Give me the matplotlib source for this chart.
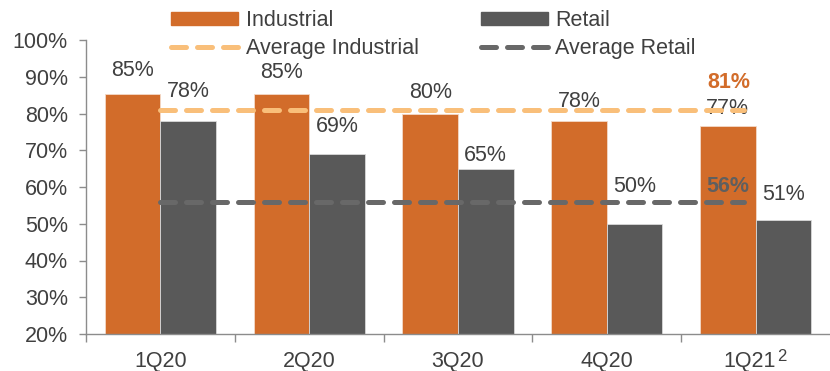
import matplotlib.pyplot as plt
import numpy as np
from matplotlib.lines import Line2D
from matplotlib.patches import Patch

plt.rcParams["font.family"] = ["Liberation Sans", "DejaVu Sans"]

# === Data ===
quarters = ["1Q20", "2Q20", "3Q20", "4Q20", "1Q21"]
footnotes = ["", "", "", "", "2"]
industrial = [85.4, 85.4, 79.8, 77.9, 76.7]
retail = [78.0, 69.1, 65.0, 49.8, 50.9]
avg_industrial = 81
avg_retail = 56

# label lift above each bar (points), hand placed to dodge the average lines
ind_lift = [9, 7.5, 8, 6.5, 5]
ret_lift = [13.5, 12, 2, 20, 11]

# === Style ===
ORANGE = "#D26C2A"
GRAY = "#595959"
LIGHT_ORANGE = "#F9BF7A"
AVG_GRAY = "#686868"
TEXT = "#404040"
FS = 15.5
DASH = (3.0, 2.2)

fig = plt.figure(figsize=(8.3, 3.71), dpi=100)
ax = fig.add_axes([86 / 830, 37 / 371, 744 / 830, 294 / 371])

x = np.arange(len(quarters))
w = 0.373
ax.bar(x - w / 2, industrial, w, color=ORANGE, edgecolor="#f3d9c8", linewidth=0.6)
ax.bar(x + w / 2, retail, w, color=GRAY, edgecolor="#d9d9d9", linewidth=0.6)

for xi, v, d in zip(x, industrial, ind_lift):
    ax.annotate(f"{v:.0f}%", (xi - w / 2, v), xytext=(0, d), textcoords="offset points",
                ha="center", va="bottom", fontsize=FS, color=TEXT)
for xi, v, d in zip(x, retail, ret_lift):
    ax.annotate(f"{v:.0f}%", (xi + w / 2, v), xytext=(0, d), textcoords="offset points",
                ha="center", va="bottom", fontsize=FS, color=TEXT)

# average lines across the quarters
line_x = [0, 3.92]
ax.plot(line_x, [avg_industrial] * 2, color=LIGHT_ORANGE, lw=3.6,
        dashes=DASH, dash_capstyle="round", zorder=3)
ax.plot(line_x, [avg_retail] * 2, color=AVG_GRAY, lw=3.6,
        dashes=DASH, dash_capstyle="round", zorder=3)
ax.annotate(f"{avg_industrial}%", (3.82, avg_industrial), xytext=(0, 12), textcoords="offset points",
            ha="center", va="bottom", fontsize=FS, color=ORANGE, fontweight="bold")
ax.annotate(f"{avg_retail}%", (4 - w / 2, avg_retail), xytext=(0, 11), textcoords="offset points",
            ha="center", va="center", fontsize=FS, color="#5f5f5f", fontweight="bold")

# === Axes ===
ax.set_xlim(-0.5, len(quarters) - 0.5)
ax.set_ylim(20, 100)
ax.set_yticks(range(20, 101, 10))
ax.set_yticklabels([f"{t}%" for t in range(20, 101, 10)])

# quarter names sit under each group; ones with a footnote nudge left for the marker
label_x = [xi - (0.04 if fn else 0) for xi, fn in zip(x, footnotes)]
ax.set_xticks(label_x)
ax.set_xticklabels(quarters)
for lx, fn in zip(label_x, footnotes):
    if fn:
        ax.annotate(fn, (lx, 0), xycoords=("data", "axes fraction"), xytext=(19.5, -11),
                    textcoords="offset points", ha="left", va="top", fontsize=12, color=TEXT)
ax.set_xticks(np.arange(-0.5, len(quarters) - 0.5, 1), minor=True)
ax.tick_params(axis="x", which="major", length=0, pad=12, labelsize=FS, labelcolor=TEXT)
ax.tick_params(axis="x", which="minor", length=6, color="#8c8c8c", width=1)
ax.tick_params(axis="y", length=5, color="#8c8c8c", width=1, pad=8, labelsize=FS, labelcolor=TEXT)
for s in ["top", "right"]:
    ax.spines[s].set_visible(False)
for s in ["left", "bottom"]:
    ax.spines[s].set_color("#8c8c8c")
    ax.spines[s].set_linewidth(1)

handles = [
    Patch(color=ORANGE, label="Industrial"),
    Line2D([], [], color=LIGHT_ORANGE, lw=3.6, dashes=DASH, dash_capstyle="round",
           label="Average Industrial"),
    Patch(color=GRAY, label="Retail"),
    Line2D([], [], color=AVG_GRAY, lw=3.6, dashes=DASH, dash_capstyle="round",
           label="Average Retail"),
]
fig.legend(handles=handles, ncol=2, loc="upper left", bbox_to_anchor=(152 / 830, 1.025),
           frameon=False, fontsize=FS, handlelength=3.1, handleheight=0.55,
           handletextpad=0.35, columnspacing=2.9, labelspacing=0.3, labelcolor=TEXT)

fig.savefig("out.png", dpi=100)
